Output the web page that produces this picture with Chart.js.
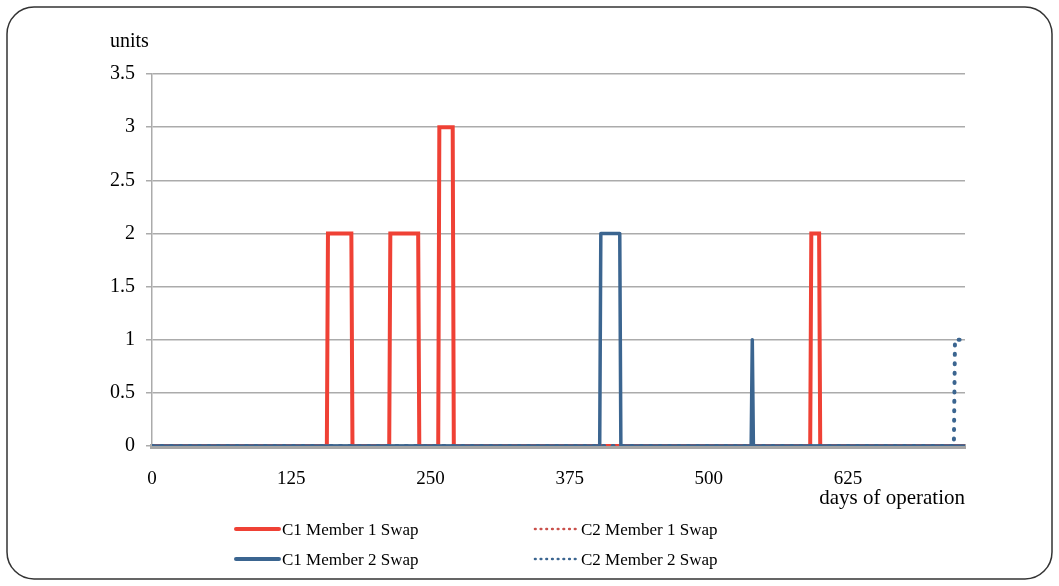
<!DOCTYPE html>
<html>
<head>
<meta charset="utf-8">
<script src="https://cdn.jsdelivr.net/npm/chart.js@4.4.0/dist/chart.umd.min.js"></script>
<style>
  html, body { margin: 0; padding: 0; background: #fff; }
</style>
</head>
<body>
<canvas id="swap-chart" width="1059" height="586"></canvas>
<script>
// days where a series changes level, and the units it has on those days
const c1m1Days  = [0, 157, 158, 179, 180, 213, 214, 239, 240, 257, 258, 270, 271, 591, 592, 599, 600, 730];
const c1m1Units = [0,   0,   2,   2,   0,   0,   2,   2,   0,   0,   3,   3,   0,   0,   2,   2,   0,   0];

const c2m1Days  = [0, 730];
const c2m1Units = [0,   0];

const c1m2Days  = [0, 402, 403, 420, 421, 538, 539, 540, 730];
const c1m2Units = [0,   0,   2,   2,   0,   0,   1,   0,   0];

const c2m2Days  = [0, 720, 721, 730];
const c2m2Units = [0,   0,   1,   1];

const xTicks = [0, 125, 250, 375, 500, 625];
const yTicks = [0, 0.5, 1, 1.5, 2, 2.5, 3, 3.5];

const seriesNames = ["C1 Member 1 Swap", "C2 Member 1 Swap", "C1 Member 2 Swap", "C2 Member 2 Swap"];

const RED = "#ef4135";
const RED_DOT = "#c9504b";
const BLUE = "#3b6590";
const FONT = "Liberation Serif";

const toPoints = (days, units) => days.map((d, i) => ({ x: d, y: units[i] }));

// frame, "units" label and the 2x2 legend are drawn by hand
const framePlugin = {
  id: "frame",
  afterDraw(chart) {
    const ctx = chart.ctx;
    ctx.save();

    // rounded outer border
    ctx.strokeStyle = "#333";
    ctx.lineWidth = 1.5;
    ctx.beginPath();
    ctx.roundRect(7, 7, 1045, 572, 27);
    ctx.stroke();

    ctx.fillStyle = "#000";
    ctx.font = `20px "${FONT}"`;
    ctx.textBaseline = "alphabetic";
    ctx.textAlign = "left";
    ctx.fillText("units", 110, 47);

    // legend
    ctx.font = `17px "${FONT}"`;
    const items = [
      { name: seriesNames[0], color: RED, dotted: false, x: 236, y: 529 },
      { name: seriesNames[1], color: RED_DOT, dotted: true, x: 535, y: 529 },
      { name: seriesNames[2], color: BLUE, dotted: false, x: 236, y: 559 },
      { name: seriesNames[3], color: BLUE, dotted: true, x: 535, y: 559 },
    ];
    items.forEach(it => {
      ctx.beginPath();
      ctx.strokeStyle = it.color;
      ctx.lineCap = "round";
      if (it.dotted) {
        ctx.lineWidth = 2.6;
        ctx.setLineDash([0.6, 5.1]);
      } else {
        ctx.lineWidth = 4;
        ctx.setLineDash([]);
      }
      ctx.moveTo(it.x, it.y);
      ctx.lineTo(it.x + 43, it.y);
      ctx.stroke();
      ctx.setLineDash([]);
      ctx.fillStyle = "#000";
      ctx.fillText(it.name, it.x + 46, it.y + 6);
    });

    ctx.restore();
  }
};

const swapData = {
  datasets: [
    {
      label: seriesNames[0],
      data: toPoints(c1m1Days, c1m1Units),
      borderColor: RED,
      borderWidth: 4,
      order: 3,
    },
    {
      label: seriesNames[1],
      data: toPoints(c2m1Days, c2m1Units),
      borderColor: RED_DOT,
      borderWidth: 4,
      borderDash: [1, 8.4],
      borderCapStyle: "round",
      order: 2,
    },
    {
      label: seriesNames[2],
      data: toPoints(c1m2Days, c1m2Units),
      borderColor: BLUE,
      borderWidth: 3.5,
      borderJoinStyle: "round",
      order: 0,
    },
    {
      label: seriesNames[3],
      data: toPoints(c2m2Days, c2m2Units),
      borderColor: BLUE,
      borderWidth: 4,
      borderDash: [1, 8.4],
      borderCapStyle: "round",
      order: 1,
    },
  ],
};

const swapConfig = {
  type: "line",
  data: swapData,
  options: {
    responsive: false,
    animation: false,
    layout: { padding: { left: 0, top: 74, right: 94, bottom: 60 } },
    elements: { point: { radius: 0 }, line: { tension: 0 } },
    plugins: { legend: { display: false }, tooltip: { enabled: false } },
    scales: {
      x: {
        type: "linear",
        min: 0,
        max: 730,
        afterBuildTicks: s => { s.ticks = xTicks.map(v => ({ value: v })); },
        afterFit: s => { s.height = 80; },
        grid: { display: false, drawTicks: false },
        border: { display: true, color: "#a6a6a6", width: 5 },
        ticks: { color: "#000", padding: 22, font: { family: FONT, size: 19 } },
        title: {
          display: true,
          text: "days of operation",
          align: "end",
          color: "#000",
          padding: { top: 0, bottom: 15 },
          font: { family: FONT, size: 21 },
        },
      },
      y: {
        min: 0,
        max: 3.5,
        afterBuildTicks: s => { s.ticks = yTicks.map(v => ({ value: v })); },
        afterFit: s => { s.width = 152; },
        grid: { color: "#ababab", lineWidth: 1.5, drawTicks: true, tickLength: 6 },
        border: { display: true, color: "#ababab", width: 1.5 },
        ticks: {
          color: "#000",
          padding: 11,
          font: { family: FONT, size: 20 },
          callback: v => String(v),
        },
      },
    },
  },
  plugins: [framePlugin],
};

const swapChart = new Chart(document.getElementById("swap-chart"), swapConfig);
</script>
</body>
</html>
